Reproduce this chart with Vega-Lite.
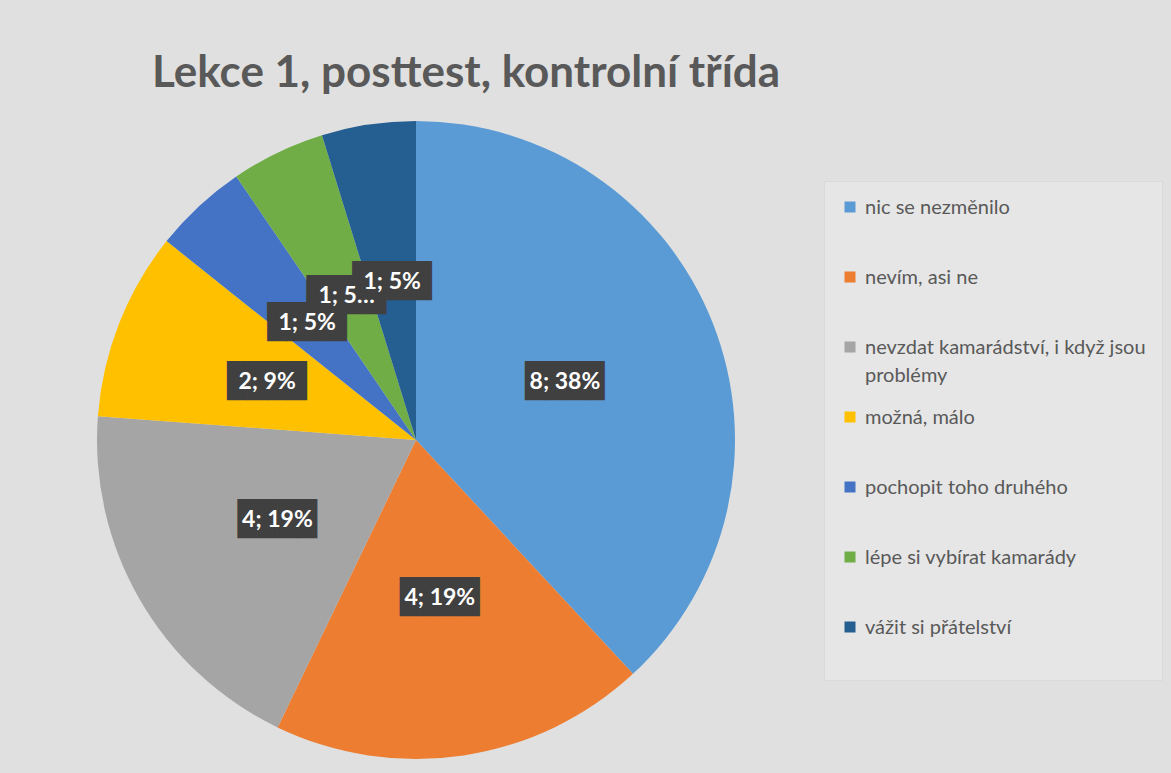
{
  "$schema": "https://vega.github.io/schema/vega-lite/v6.json",
  "width": 638,
  "height": 638,
  "autosize": {"type": "none"},
  "padding": {"left": 97, "top": 121, "right": 436, "bottom": 14},
  "background": "#e0e0e0",
  "title": {
    "text": "Lekce 1, posttest, kontrolní třída",
    "anchor": "start",
    "dx": 55,
    "offset": 25,
    "font": "Lato",
    "fontSize": 44,
    "fontWeight": "bold",
    "color": "#595959"
  },
  "data": {
    "values": [
      {"kat": "nic se nezměnilo", "pocet": 8, "popisek": "8; 38%", "poradi": 1},
      {"kat": "nevím, asi ne", "pocet": 4, "popisek": "4; 19%", "poradi": 2},
      {"kat": "nevzdat kamarádství, i když jsou problémy", "pocet": 4, "popisek": "4; 19%", "poradi": 3},
      {"kat": "možná, málo", "pocet": 2, "popisek": "2; 9%", "poradi": 4},
      {"kat": "pochopit toho druhého", "pocet": 1, "popisek": "1; 5%", "poradi": 5},
      {"kat": "lépe si vybírat kamarády", "pocet": 1, "popisek": "1; 5…", "poradi": 6},
      {"kat": "vážit si přátelství", "pocet": 1, "popisek": "1; 5%", "poradi": 7}
    ]
  },
  "encoding": {
    "theta": {"field": "pocet", "type": "quantitative", "stack": true},
    "order": {"field": "poradi", "type": "quantitative"},
    "detail": {"field": "kat", "type": "nominal"}
  },
  "layer": [
    {
      "mark": {"type": "arc", "outerRadius": 319},
      "encoding": {
        "color": {
          "field": "kat",
          "type": "nominal",
          "scale": {
            "domain": ["nic se nezměnilo", "nevím, asi ne", "nevzdat kamarádství, i když jsou problémy", "možná, málo", "pochopit toho druhého", "lépe si vybírat kamarády", "vážit si přátelství"],
            "range": ["#5B9BD5", "#ED7D31", "#A5A5A5", "#FFC000", "#4472C4", "#70AD47", "#255E91"]
          },
          "legend": {
            "orient": "none",
            "legendX": 727,
            "legendY": 60,
            "title": " ",
            "titleOrient": "bottom",
            "titleFontSize": 16,
            "titlePadding": 10,
            "symbolType": "square",
            "symbolSize": 121,
            "symbolStrokeWidth": 0,
            "labelFont": "Lato",
            "labelFontSize": 20,
            "labelColor": "#595959",
            "labelLimit": 340,
            "labelBaseline": "alphabetic",
            "labelOffset": 5,
            "gridAlign": "all",
            "rowPadding": 21,
            "padding": 16,
            "fillColor": "#e6e6e6",
            "strokeColor": "#dadada",
            "labelExpr": "datum.label == 'nevzdat kamarádství, i když jsou problémy' ? ['nevzdat kamarádství, i když jsou', 'problémy'] : datum.label",
            "encode": {
              "labels": {"update": {"dy": {"value": 7}, "lineHeight": {"value": 28}}}
            }
          }
        }
      }
    },
    {
      "mark": {"type": "text", "radius": 160, "font": "DejaVu Sans Mono", "fontSize": 33, "color": "#404040"},
      "encoding": {"text": {"value": "████"}}
    },
    {
      "mark": {"type": "text", "radius": 160, "font": "Lato", "fontSize": 23, "fontWeight": "bold", "color": "#ffffff"},
      "encoding": {"text": {"field": "popisek", "type": "nominal"}}
    }
  ],
  "config": {"view": {"stroke": null}}
}
